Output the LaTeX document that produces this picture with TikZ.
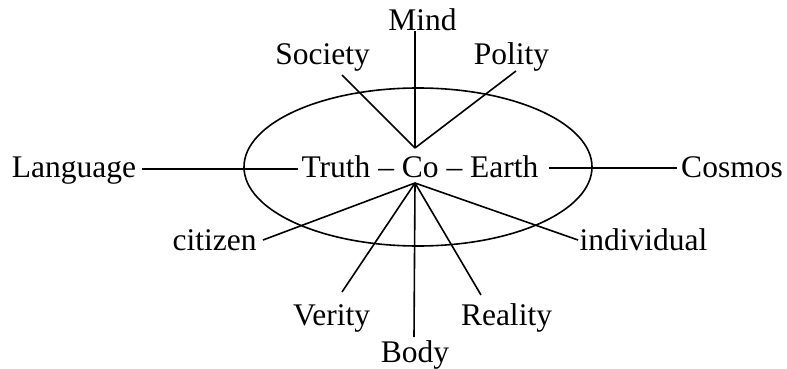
\documentclass[tikz,border=0pt]{standalone}
\usepackage{fontspec}
\setmainfont{Liberation Serif}
\begin{document}
\begin{tikzpicture}[x=1pt,y=-1pt,
  lbl/.style={anchor=base,inner sep=0pt,font=\fontsize{31.5}{36}\selectfont},
  conn/.style={line width=1.6pt}]
\useasboundingbox (0,0) rectangle (787,369);
% ellipse
\draw[conn] (418,167) ellipse [x radius=174, y radius=79];
% labels
\node[lbl] (mind) at (422.5,31) {Mind};
\node[lbl] (society) at (322.5,65) {Society};
\node[lbl] (polity) at (511.5,65) {Polity};
\node[lbl] (center) at (420,177) {Truth – Co – Earth};
\node[lbl] (language) at (74,177) {Language};
\node[lbl] (cosmos) at (732,177) {Cosmos};
\node[lbl] (citizen) at (214.5,250) {citizen};
\node[lbl] (individual) at (643.5,250) {individual};
\node[lbl] (verity) at (331.5,325) {Verity};
\node[lbl] (reality) at (506.5,325) {Reality};
\node[lbl] (body) at (415,362) {Body};
% connector end points
\coordinate (up) at (415,148);
\coordinate (down) at (415,183);
\coordinate (mindE) at (415,31);
\coordinate (socE) at (342,75);
\coordinate (polE) at (516,71);
\coordinate (langE) at (142,169);
\coordinate (truthE) at (298,169);
\coordinate (earthE) at (549,168);
\coordinate (cosE) at (677,168);
\coordinate (citE) at (263,240);
\coordinate (verE) at (342,292);
\coordinate (bodE) at (414,337);
\coordinate (reaE) at (481,295);
\coordinate (indE) at (578,240);
% connectors
\draw[conn] (up) -- (mindE);
\draw[conn] (up) -- (socE);
\draw[conn] (up) -- (polE);
\draw[conn] (langE) -- (truthE);
\draw[conn] (earthE) -- (cosE);
\draw[conn] (down) -- (citE);
\draw[conn] (down) -- (verE);
\draw[conn] (down) -- (bodE);
\draw[conn] (down) -- (reaE);
\draw[conn] (down) -- (indE);
\end{tikzpicture}
\end{document}
